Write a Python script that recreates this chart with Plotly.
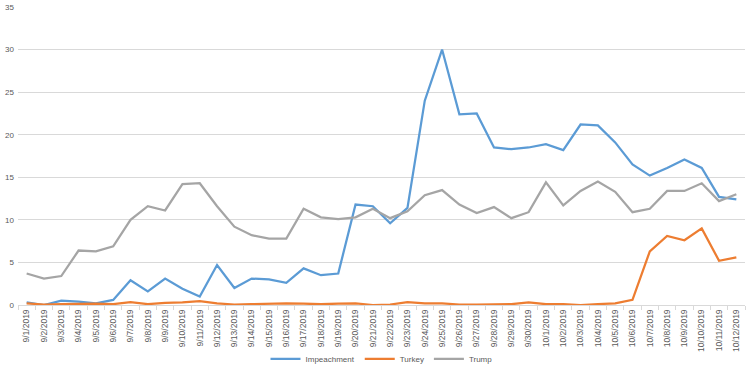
import plotly.graph_objects as go

dates = ["9/1/2019","9/2/2019","9/3/2019","9/4/2019","9/5/2019","9/6/2019","9/7/2019","9/8/2019",
         "9/9/2019","9/10/2019","9/11/2019","9/12/2019","9/13/2019","9/14/2019","9/15/2019","9/16/2019",
         "9/17/2019","9/18/2019","9/19/2019","9/20/2019","9/21/2019","9/22/2019","9/23/2019","9/24/2019",
         "9/25/2019","9/26/2019","9/27/2019","9/28/2019","9/29/2019","9/30/2019","10/1/2019","10/2/2019",
         "10/3/2019","10/4/2019","10/5/2019","10/6/2019","10/7/2019","10/8/2019","10/9/2019","10/10/2019",
         "10/11/2019","10/12/2019"]

impeachment = [0.3, 0.0, 0.5, 0.4, 0.2, 0.6, 2.9, 1.6, 3.1, 1.9, 1.0, 4.7, 2.0, 3.1, 3.0, 2.6,
               4.3, 3.5, 3.7, 11.8, 11.6, 9.6, 11.4, 24.0, 30.0, 22.4, 22.5, 18.5, 18.3, 18.5,
               18.9, 18.2, 21.2, 21.1, 19.1, 16.5, 15.2, 16.1, 17.1, 16.1, 12.7, 12.4]
turkey = [0.2, 0.05, 0.1, 0.15, 0.15, 0.1, 0.35, 0.1, 0.25, 0.3, 0.45, 0.2, 0.05, 0.1, 0.15, 0.2,
          0.15, 0.1, 0.15, 0.2, 0.0, 0.05, 0.35, 0.2, 0.2, 0.05, 0.05, 0.1, 0.1, 0.3,
          0.1, 0.1, 0.0, 0.1, 0.2, 0.6, 6.3, 8.1, 7.6, 9.0, 5.2, 5.6]
trump = [3.7, 3.1, 3.4, 6.4, 6.3, 6.9, 10.0, 11.6, 11.1, 14.2, 14.3, 11.6, 9.2, 8.2, 7.8, 7.8,
         11.3, 10.3, 10.1, 10.3, 11.3, 10.2, 11.0, 12.9, 13.5, 11.8, 10.8, 11.5, 10.2, 10.9,
         14.4, 11.7, 13.4, 14.5, 13.3, 10.9, 11.3, 13.4, 13.4, 14.3, 12.2, 13.0]

series = [("Impeachment", impeachment, "#5B9BD5"),
          ("Turkey", turkey, "#ED7D31"),
          ("Trump", trump, "#A5A5A5")]

fig = go.Figure()
for name, vals, color in series:
    fig.add_trace(go.Scatter(x=dates, y=vals, name=name, mode="lines",
                             line=dict(color=color, width=2.25)))

fig.update_layout(
    width=750, height=368,
    margin=dict(l=18, r=5, t=7, b=63),
    paper_bgcolor="white", plot_bgcolor="white",
    font=dict(family="Liberation Sans, Arial, sans-serif", size=8, color="#595959"),
    showlegend=True,
    legend=dict(orientation="h", x=0.5, xanchor="center", y=0.025, yanchor="middle",
                yref="container", font=dict(size=8, color="#595959"),
                itemwidth=30, tracegroupgap=0, bgcolor="rgba(0,0,0,0)"),
)
fig.update_xaxes(type="category", range=[-0.5, len(dates) - 0.5], automargin=False,
                 tickangle=-90, showgrid=False, showline=True, linecolor="#D9D9D9",
                 linewidth=1, ticks="outside", tickson="boundaries", ticklen=4,
                 tickcolor="#D9D9D9", tickfont=dict(size=8.5, color="#595959"))
fig.update_yaxes(range=[0, 35], dtick=5, showgrid=True, gridcolor="#D9D9D9", gridwidth=1,
                 zeroline=False, showline=False, automargin=False,
                 tickfont=dict(size=8, color="#595959"), ticks="", ticklabelstandoff=3)

fig.write_html("out.html", config={"displayModeBar": False},
               post_script="document.body.style.margin='0';document.body.style.padding='0';")
